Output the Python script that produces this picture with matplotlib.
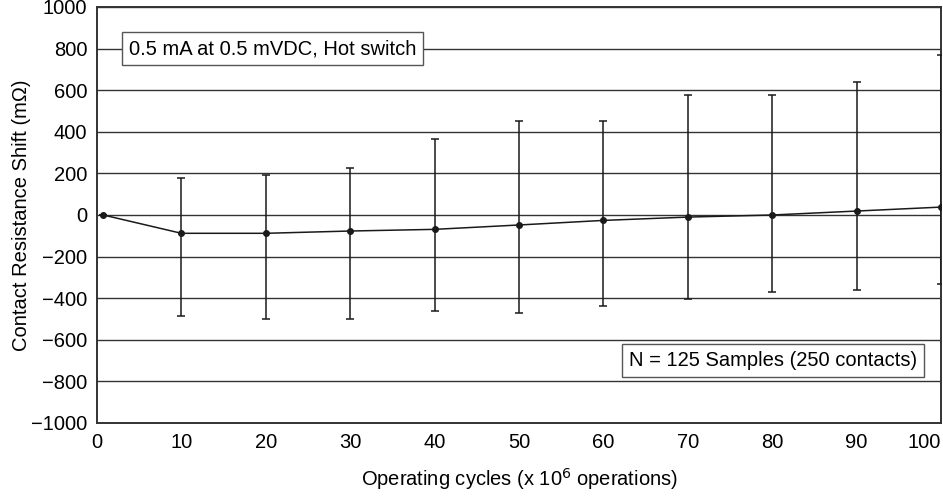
import matplotlib
matplotlib.use("Agg")
import matplotlib.pyplot as plt
import numpy as np

plt.rcParams['font.family'] = ['Liberation Sans', 'DejaVu Sans']

cycles = [0.75, 10, 20, 30, 40, 50, 60, 70, 80, 90, 100]
mean_shift = [0, -88, -88, -77, -69, -48, -26, -10, 0, 19, 38]
upper = [0, 176, 192, 227, 364, 453, 453, 578, 578, 639, 768]
lower = [0, -486, -500, -500, -460, -473, -436, -404, -370, -360, -332]
x_ticks = [0, 10, 20, 30, 40, 50, 60, 70, 80, 90, 100]
y_ticks = [-1000, -800, -600, -400, -200, 0, 200, 400, 600, 800, 1000]

W, H = 943, 497
fig = plt.figure(figsize=(W/100, H/100), dpi=100)
ax = fig.add_axes([97/W, (H-423)/H, (941-97)/W, (423-7)/H])

m = np.array(mean_shift, float)
err = np.vstack([m - np.array(lower, float), np.array(upper, float) - m])
ax.errorbar(cycles, m, yerr=err, color='#1a1a1a', lw=1.1, elinewidth=1.1,
            capsize=3, capthick=1.1, marker='o', markersize=4, clip_on=True, zorder=3)

ax.set_xlim(0, 100)
ax.set_ylim(-1000, 1000)
ax.set_xticks(x_ticks)
ax.set_yticks(y_ticks)
ax.yaxis.grid(True, color='#333333', lw=1.0)
ax.set_axisbelow(True)
ax.tick_params(length=0, labelsize=14.5, pad=7)
for s in ax.spines.values():
    s.set_color('#333333')
    s.set_linewidth(1.4)
fig.canvas.draw()
lbls = ax.get_xticklabels()
lbls[-1].set_horizontalalignment('right')

ax.set_xlabel('Operating cycles (x 10$^{6}$ operations)', fontsize=14.5, labelpad=10)
ax.set_ylabel('Contact Resistance Shift (m\u03a9)', fontsize=14.5, labelpad=0)

box = dict(boxstyle='square,pad=0.35', fc='white', ec='#555555', lw=1.0)
ax.text(3.75, 800, '0.5 mA at 0.5 mVDC, Hot switch', fontsize=14.5, va='center', ha='left',
        bbox=box, zorder=5)
ax.text(97.2, -700, 'N = 125 Samples (250 contacts)', fontsize=14.5, va='center', ha='right',
        bbox=box, zorder=5)

fig.savefig('out.png', dpi=100)
